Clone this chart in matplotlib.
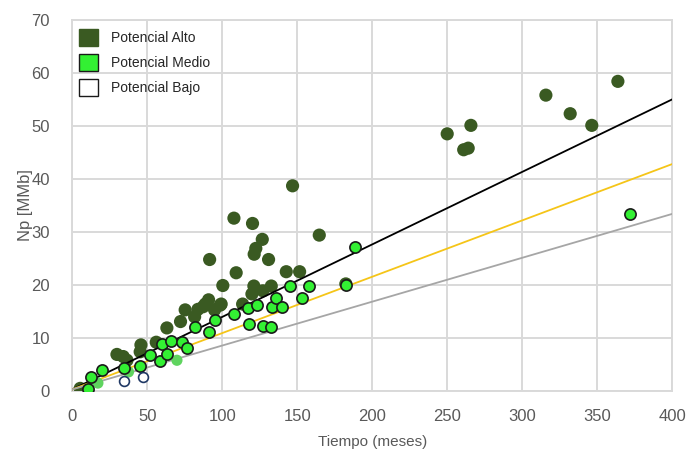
import matplotlib
matplotlib.use("Agg")
import matplotlib.pyplot as plt
from matplotlib.patches import Patch

plt.rcParams['font.family'] = ['Liberation Sans', 'DejaVu Sans']

# Potencial Alto (meses, MMb)
alto_x = [5.3, 29.8, 34, 36.5, 45.3, 45.8, 56, 63.1, 72.2, 75.3, 81.6, 83.8, 87.3, 88.7,
          90.9, 94.9, 98.7, 99.3, 100.4, 91.6, 107.8, 109.3, 113.6, 119.8, 121.1, 121.3,
          122.4, 120.2, 126.7, 127.1, 130.9, 132.7, 142.7, 146.9, 151.6, 164.7, 182.4,
          250, 261, 264, 265.8, 315.8, 332, 346.4, 363.8]
alto_y = [0.5, 6.9, 6.5, 5.8, 7.4, 8.7, 9.2, 11.9, 13.1, 15.3, 14.0, 15.4, 15.9, 16.4,
          17.2, 15.3, 16.2, 16.4, 19.9, 24.8, 32.6, 22.3, 16.4, 18.3, 19.8, 25.8,
          26.9, 31.6, 28.6, 18.9, 24.8, 19.8, 22.5, 38.7, 22.5, 29.4, 20.2,
          48.5, 45.5, 45.8, 50.1, 55.8, 52.3, 50.1, 58.4]

# Potencial Medio
medio_x = [10.4, 12.4, 19.8, 34.2, 45.3, 51.6, 58.2, 59.8, 63.1, 65.8, 73.1, 76.4,
           81.6, 91.3, 95.3, 107.6, 117.5, 117.6, 123.3, 126.9, 132.7, 133.1, 135.8,
           139.8, 145.3, 153.1, 157.8, 182.6, 188.4, 372]
medio_y = [0.3, 2.6, 4.0, 4.3, 4.7, 6.7, 5.7, 8.8, 7.0, 9.4, 9.3, 8.1,
           12.1, 11.2, 13.4, 14.5, 15.6, 12.6, 16.2, 12.3, 12.1, 15.9, 17.6,
           15.9, 19.8, 17.5, 19.8, 19.9, 27.1, 33.4]
# faded medio points (drawn lighter in the original)
medio_f_x = [17.1, 37.5, 69.8]
medio_f_y = [1.5, 3.6, 5.8]

# Potencial Bajo
bajo_x = [34.2, 47.5]
bajo_y = [1.9, 2.6]

# trend lines (end points)
trend_x = [0, 400]
trend_alto = [0.3, 55.0]
trend_medio = [0.3, 42.8]
trend_bajo = [0.3, 33.4]

alto_c = '#3a5a22'
medio_c = '#33f033'
txt_c = '#595959'
grid_c = '#d9d9d9'

fig = plt.figure(figsize=(6.88, 4.51), dpi=100)
ax = fig.add_axes([0.105, 0.133, 0.872, 0.823])

ax.scatter(alto_x, alto_y, s=90, color=alto_c, edgecolors='none', zorder=3)
ax.plot(trend_x, trend_alto, color='black', lw=1.3, zorder=4)
ax.plot(trend_x, trend_medio, color='#f5c518', lw=1.3, zorder=4)
ax.plot(trend_x, trend_bajo, color='#a6a6a6', lw=1.3, zorder=4)
ax.scatter(medio_f_x, medio_f_y, s=65, color='#5fd45f', edgecolors='none', zorder=5)
ax.scatter(medio_x, medio_y, s=65, color=medio_c, edgecolors='#1a1a1a', linewidths=1.2, zorder=5)
ax.scatter(bajo_x, bajo_y, s=50, color='white', edgecolors='#1f3864', linewidths=1.2, zorder=5)

ax.set_xlim(0, 400)
ax.set_ylim(0, 70)
ax.set_xticks(range(0, 401, 50))
ax.set_yticks(range(0, 71, 10))
ax.grid(True, color=grid_c, lw=1.4)
ax.set_axisbelow(True)
for sp in ax.spines.values():
    sp.set_color(grid_c)
    sp.set_linewidth(1.4)
ax.tick_params(length=0, labelsize=12, colors=txt_c)
ax.tick_params(axis='x', pad=13)
ax.tick_params(axis='y', pad=16)

ax.set_xlabel('Tiempo (meses)', fontsize=11, color=txt_c, labelpad=8)
ax.set_ylabel('Np [MMb]', fontsize=12, color=txt_c, labelpad=-1)

handles = [Patch(facecolor=alto_c, edgecolor=alto_c),
           Patch(facecolor=medio_c, edgecolor='#1a1a1a'),
           Patch(facecolor='white', edgecolor='#1a1a1a')]
labels = ['Potencial Alto', 'Potencial Medio', 'Potencial Bajo']
leg = ax.legend(handles, labels, loc='upper left', bbox_to_anchor=(-0.01, 1.01),
                frameon=False, fontsize=10, handlelength=1.4, handleheight=1.5,
                handletextpad=0.9, labelspacing=0.6)
for t in leg.get_texts():
    t.set_color('#262626')

fig.savefig('out.png', dpi=100)
